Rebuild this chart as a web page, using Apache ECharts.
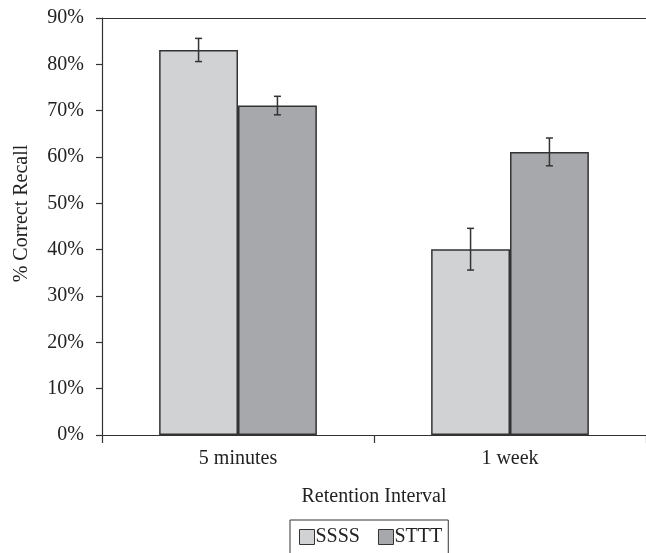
<!DOCTYPE html>
<html>
<head>
<meta charset="utf-8">
<script src="https://cdn.jsdelivr.net/npm/echarts@6/dist/echarts.min.js"></script>
<style>
  html, body { margin: 0; padding: 0; background: #fff; }
  #chart { width: 646px; height: 553px; }
</style>
</head>
<body>
<div id="chart"></div>
<script>
// Recall by retention interval, two study conditions
const categories = ['5 minutes', '1 week'];
const seriesNames = ['SSSS', 'STTT'];
const ssssValues = [83.1, 40.1];
const ssssErrors = [2.5, 4.5];
const stttValues = [71.1, 61.1];
const stttErrors = [2.0, 3.0];
const yTicks = [0, 10, 20, 30, 40, 50, 60, 70, 80, 90];

const FONT = '"Liberation Serif", "DejaVu Serif", serif';
const CAT_GAP = 0.42;
const colors = ['#d1d2d4', '#a7a8ab'];
const INK = '#222';
const LINE = '#333';

const chart = echarts.init(document.getElementById('chart'));

function errorSeries(idx, values, errors) {
  const data = values.map((v, i) => [i, v - errors[i], v + errors[i]]);
  return {
    type: 'custom',
    name: seriesNames[idx] + ' error',
    z: 10,
    silent: true,
    data: data,
    renderItem: function (params, api) {
      const i = api.value(0);
      const band = api.size([1, 0])[0];
      const barW = band * (1 - CAT_GAP) / 2;
      const off = (idx === 0 ? -0.5 : 0.5) * barW;
      const lo = api.coord([i, api.value(1)]);
      const hi = api.coord([i, api.value(2)]);
      const x = lo[0] + off;
      const cap = 3.5;
      const style = { stroke: LINE, lineWidth: 1.5 };
      return {
        type: 'group',
        children: [
          { type: 'line', shape: { x1: x, y1: lo[1], x2: x, y2: hi[1] }, style: style },
          { type: 'line', shape: { x1: x - cap, y1: lo[1], x2: x + cap, y2: lo[1] }, style: style },
          { type: 'line', shape: { x1: x - cap, y1: hi[1], x2: x + cap, y2: hi[1] }, style: style }
        ]
      };
    }
  };
}

chart.setOption({
  animation: false,
  textStyle: { fontFamily: FONT },
  grid: { left: 102, right: -5, top: 18, bottom: 118 },
  legend: {
    data: seriesNames,
    left: 290, top: 520,
    orient: 'horizontal',
    icon: 'rect',
    itemWidth: 15, itemHeight: 15, itemGap: 18,
    padding: [7, 6, 8, 9],
    borderColor: LINE, borderWidth: 1,
    textStyle: { fontFamily: FONT, fontSize: 20, color: INK, padding: [0, 0, 0, -4] },
    itemStyle: { borderColor: LINE, borderWidth: 1 }
  },
  xAxis: [
    {
      type: 'category',
      data: categories,
      boundaryGap: true,
      name: 'Retention Interval',
      nameLocation: 'middle',
      nameGap: 52,
      nameTextStyle: { fontFamily: FONT, fontSize: 20, color: INK },
      axisLine: { lineStyle: { color: LINE, width: 1.2 } },
      axisTick: { show: true, length: 8, alignWithLabel: false, lineStyle: { color: LINE, width: 1.2 } },
      axisLabel: { fontFamily: FONT, fontSize: 20, color: INK, margin: 14 },
      splitLine: { show: false }
    },
    {
      // plain frame line along the top of the plot
      type: 'category',
      data: categories,
      position: 'top',
      axisLine: { show: true, onZero: false, lineStyle: { color: LINE, width: 1.2 } },
      axisTick: { show: false },
      axisLabel: { show: false },
      splitLine: { show: false }
    }
  ],
  yAxis: {
    type: 'value',
    min: yTicks[0], max: yTicks[yTicks.length - 1], interval: 10,
    name: '% Correct Recall',
    nameLocation: 'middle',
    nameGap: 70,
    nameTextStyle: { fontFamily: FONT, fontSize: 20, color: INK, padding: [0, 0, 0, 26] },
    axisLine: { show: true, lineStyle: { color: LINE, width: 1.2 } },
    axisTick: { show: true, length: 6, lineStyle: { color: LINE, width: 1.2 } },
    axisLabel: { fontFamily: FONT, fontSize: 20, color: INK, margin: 18, formatter: '{value}%' },
    splitLine: { show: false }
  },
  series: [
    {
      type: 'bar', name: seriesNames[0], data: ssssValues,
      barGap: 0, barCategoryGap: (CAT_GAP * 100) + '%',
      itemStyle: { color: colors[0], borderColor: LINE, borderWidth: 1.5 }
    },
    {
      type: 'bar', name: seriesNames[1], data: stttValues,
      barGap: 0, barCategoryGap: (CAT_GAP * 100) + '%',
      itemStyle: { color: colors[1], borderColor: LINE, borderWidth: 1.5 }
    },
    errorSeries(0, ssssValues, ssssErrors),
    errorSeries(1, stttValues, stttErrors)
  ]
});
</script>
</body>
</html>
